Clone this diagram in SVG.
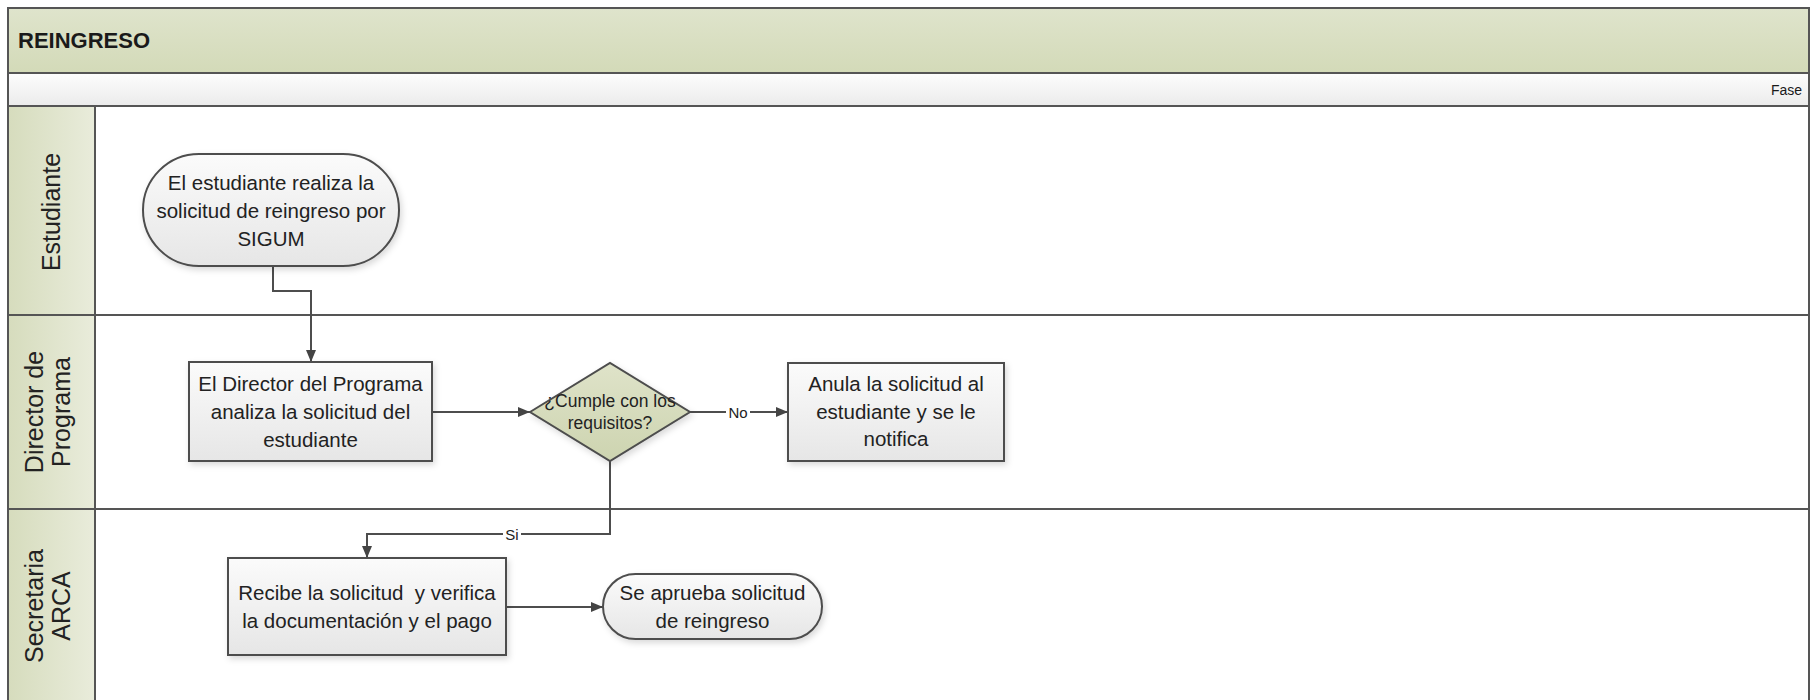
<svg xmlns="http://www.w3.org/2000/svg" width="1815" height="700" viewBox="0 0 1815 700">
<style>
.lbl{font-family:"Liberation Sans",Arial,sans-serif;fill:#1a1a1a;}
.node{font-family:"Liberation Sans",Arial,sans-serif;font-size:20.5px;fill:#222;text-anchor:middle;}
.small{font-family:"Liberation Sans",Arial,sans-serif;font-size:15px;fill:#222;text-anchor:middle;}
.dec{font-family:"Liberation Sans",Arial,sans-serif;font-size:17.5px;fill:#222;text-anchor:middle;}
.lane{font-family:"Liberation Sans",Arial,sans-serif;font-size:25px;fill:#222;text-anchor:middle;}
.box{fill:url(#boxg);stroke:#4d4d4d;stroke-width:2;filter:url(#sh);}
.conn{fill:none;stroke:#4d4d4d;stroke-width:2;}
.grid{stroke:#555;stroke-width:2;fill:none;}
</style>
<defs>
<linearGradient id="titleg" x1="0" y1="0" x2="0" y2="1"><stop offset="0" stop-color="#dfe4cc"/><stop offset="1" stop-color="#d3dab8"/></linearGradient>
<linearGradient id="faseg" x1="0" y1="0" x2="0" y2="1"><stop offset="0" stop-color="#fdfdfd"/><stop offset="1" stop-color="#ebebeb"/></linearGradient>
<linearGradient id="laneg" x1="0" y1="0" x2="1" y2="0"><stop offset="0" stop-color="#d6dcbd"/><stop offset="1" stop-color="#e9ecdb"/></linearGradient>
<linearGradient id="boxg" x1="0" y1="0" x2="0" y2="1"><stop offset="0" stop-color="#fbfbfb"/><stop offset="1" stop-color="#e6e6e6"/></linearGradient>
<linearGradient id="diag" x1="0" y1="0" x2="0" y2="1"><stop offset="0" stop-color="#dfe3c9"/><stop offset="1" stop-color="#cdd4b0"/></linearGradient>
<filter id="sh" x="-10%" y="-10%" width="130%" height="130%"><feDropShadow dx="2" dy="3" stdDeviation="3" flood-color="#000" flood-opacity="0.15"/></filter>
<marker id="arr" viewBox="0 0 12 10" refX="12" refY="5" markerWidth="12" markerHeight="10" markerUnits="userSpaceOnUse" orient="auto"><path d="M0,0 L12,5 L0,10 z" fill="#444"/></marker>
</defs>
<rect x="0" y="0" width="1815" height="700" fill="#fff"/>
<g id="pool">
<rect x="8" y="8" width="1801" height="65" fill="url(#titleg)"/>
<rect x="8" y="73" width="1801" height="33" fill="url(#faseg)"/>
<rect x="8" y="106" width="87" height="600" fill="url(#laneg)"/>
<rect x="8" y="8" width="1801" height="700" class="grid"/>
<line x1="8" y1="73" x2="1809" y2="73" class="grid"/>
<line x1="8" y1="106" x2="1809" y2="106" class="grid"/>
<line x1="8" y1="315" x2="1809" y2="315" class="grid"/>
<line x1="8" y1="509" x2="1809" y2="509" class="grid"/>
<line x1="95" y1="106" x2="95" y2="700" class="grid"/>
<text class="lbl" x="18" y="48" font-size="22" font-weight="bold">REINGRESO</text>
<text class="lbl" x="1802" y="95" font-size="14" text-anchor="end">Fase</text>
</g>
<g id="lane-estudiante"><text class="lane" transform="translate(60,212) rotate(-90)">Estudiante</text></g>
<g id="lane-director"><text class="lane" transform="translate(43,412) rotate(-90)">Director de</text><text class="lane" transform="translate(70,412) rotate(-90)">Programa</text></g>
<g id="lane-secretaria"><text class="lane" transform="translate(43,606) rotate(-90)">Secretaria</text><text class="lane" transform="translate(70,606) rotate(-90)">ARCA</text></g>
<g id="connectors">
<polyline class="conn" points="273,266 273,291 311,291 311,362" marker-end="url(#arr)"/>
<line class="conn" x1="432" y1="412" x2="530" y2="412" marker-end="url(#arr)"/>
<line class="conn" x1="690" y1="412" x2="788" y2="412" marker-end="url(#arr)"/>
<rect x="726" y="404" width="24" height="17" fill="#fff"/>
<text class="small" x="738" y="418">No</text>
<polyline class="conn" points="610,460 610,534 367,534 367,558" marker-end="url(#arr)"/>
<rect x="503" y="526" width="18" height="17" fill="#fff"/>
<text class="small" x="512" y="540">Si</text>
<line class="conn" x1="506" y1="607" x2="603" y2="607" marker-end="url(#arr)"/>
</g>
<g id="n-start">
<rect class="box" x="143" y="154" width="256" height="112" rx="56" ry="56"/>
<text class="node" x="271" y="190">El estudiante realiza la</text>
<text class="node" x="271" y="218">solicitud de reingreso por</text>
<text class="node" x="271" y="246">SIGUM</text>
</g>
<g id="n-director">
<rect class="box" x="189" y="362" width="243" height="99"/>
<text class="node" x="310.5" y="391">El Director del Programa</text>
<text class="node" x="310.5" y="419">analiza la solicitud del</text>
<text class="node" x="310.5" y="447">estudiante</text>
</g>
<g id="n-decision">
<polygon points="530,412 610,363 690,412 610,461" fill="url(#diag)" stroke="#4d4d4d" stroke-width="2" filter="url(#sh)"/>
<text class="dec" x="610" y="407">¿Cumple con los</text>
<text class="dec" x="610" y="429">requisitos?</text>
</g>
<g id="n-anula">
<rect class="box" x="788" y="363" width="216" height="98"/>
<text class="node" x="896" y="391">Anula la solicitud al</text>
<text class="node" x="896" y="419">estudiante y se le</text>
<text class="node" x="896" y="446">notifica</text>
</g>
<g id="n-recibe">
<rect class="box" x="228" y="558" width="278" height="97"/>
<text class="node" x="367" y="600" xml:space="preserve">Recibe la solicitud  y verifica</text>
<text class="node" x="367" y="628">la documentación y el pago</text>
</g>
<g id="n-end">
<rect class="box" x="603" y="574" width="219" height="65" rx="32.5" ry="32.5"/>
<text class="node" x="712.5" y="600">Se aprueba solicitud</text>
<text class="node" x="712.5" y="628">de reingreso</text>
</g>
</svg>
